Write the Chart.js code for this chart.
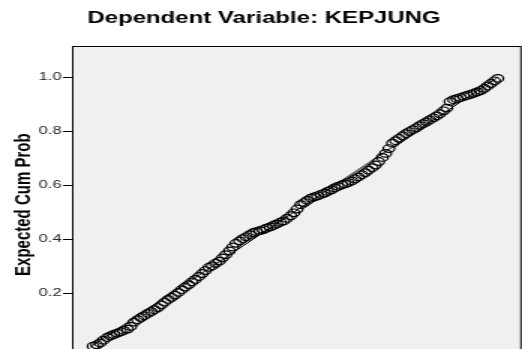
<!DOCTYPE html>
<html>
<head>
<meta charset="utf-8">
<script src="https://cdn.jsdelivr.net/npm/chart.js@4/dist/chart.umd.min.js"></script>
<style>
  html, body { margin: 0; padding: 0; background: #fff; overflow: hidden; }
  #frame { width: 348px; height: 349px; overflow: hidden; transform: scaleX(1.5); transform-origin: 0 0; }
  #pp { display: block; }
</style>
</head>
<body>
<div id="frame"><canvas id="pp" width="352" height="371"></canvas></div>
<script>
// Normal P-P plot of the regression standardized residuals
const chartTitle = 'Dependent Variable: KEPJUNG';
const yAxisTitle = 'Expected Cum Prob';
const xAxisTitle = 'Observed Cum Prob';

const observedCumProb = [
  0.008, 0.017, 0.025, 0.033, 0.042, 0.050, 0.058, 0.067, 0.075, 0.083,
  0.092, 0.100, 0.108, 0.117, 0.125, 0.133, 0.142, 0.150, 0.158, 0.167,
  0.175, 0.183, 0.192, 0.200, 0.208, 0.217, 0.225, 0.233, 0.242, 0.250,
  0.258, 0.267, 0.275, 0.283, 0.292, 0.300, 0.308, 0.317, 0.325, 0.333,
  0.342, 0.350, 0.358, 0.367, 0.375, 0.383, 0.392, 0.400, 0.408, 0.417,
  0.425, 0.433, 0.442, 0.450, 0.458, 0.467, 0.475, 0.483, 0.492, 0.500,
  0.508, 0.517, 0.525, 0.533, 0.542, 0.550, 0.558, 0.567, 0.575, 0.583,
  0.592, 0.600, 0.608, 0.617, 0.625, 0.633, 0.642, 0.650, 0.658, 0.667,
  0.675, 0.683, 0.692, 0.700, 0.708, 0.717, 0.725, 0.733, 0.742, 0.750,
  0.758, 0.767, 0.775, 0.783, 0.792, 0.800, 0.808, 0.817, 0.825, 0.833,
  0.842, 0.850, 0.858, 0.867, 0.875, 0.883, 0.892, 0.900, 0.908, 0.917,
  0.925, 0.933, 0.942, 0.950, 0.958, 0.967, 0.975, 0.983, 0.992, 1.000
];

const expectedCumProb = [
  0.004, 0.009, 0.016, 0.026, 0.036, 0.042, 0.047, 0.052, 0.057, 0.062,
  0.067, 0.077, 0.093, 0.102, 0.110, 0.117, 0.125, 0.132, 0.139, 0.147,
  0.157, 0.167, 0.177, 0.185, 0.193, 0.203, 0.213, 0.223, 0.232, 0.242,
  0.251, 0.262, 0.273, 0.284, 0.296, 0.302, 0.311, 0.319, 0.331, 0.343,
  0.357, 0.371, 0.385, 0.394, 0.402, 0.409, 0.417, 0.424, 0.428, 0.432,
  0.436, 0.441, 0.446, 0.451, 0.457, 0.463, 0.468, 0.477, 0.487, 0.498,
  0.512, 0.528, 0.536, 0.544, 0.552, 0.557, 0.561, 0.566, 0.571, 0.577,
  0.583, 0.590, 0.596, 0.601, 0.605, 0.610, 0.616, 0.624, 0.631, 0.639,
  0.647, 0.656, 0.665, 0.675, 0.688, 0.703, 0.718, 0.736, 0.756, 0.765,
  0.774, 0.783, 0.791, 0.799, 0.806, 0.813, 0.821, 0.828, 0.835, 0.842,
  0.850, 0.857, 0.865, 0.876, 0.886, 0.910, 0.917, 0.921, 0.925, 0.929,
  0.933, 0.937, 0.941, 0.946, 0.951, 0.959, 0.968, 0.977, 0.987, 0.996
];

// reference diagonal (observed = expected)
const diagonalX = [0, 1];
const diagonalY = [0, 1];

const yTickValues = [0.2, 0.4, 0.6, 0.8, 1.0];
const yTickLabels = ['0.2', '0.4', '0.6', '0.8', '1.0'];

const points = observedCumProb.map((x, i) => ({ x: x, y: expectedCumProb[i] }));
const diagonal = diagonalX.map((x, i) => ({ x: x, y: diagonalY[i] }));

// grey plot panel with a black frame
const panel = {
  id: 'panel',
  beforeDatasetsDraw(chart) {
    const a = chart.chartArea, ctx = chart.ctx;
    ctx.save();
    ctx.fillStyle = '#f0f0f0';
    ctx.fillRect(a.left, a.top, a.right - a.left, a.bottom - a.top);
    ctx.strokeStyle = '#000';
    ctx.lineWidth = 1;
    ctx.strokeRect(a.left + 0.5, a.top + 0.5, a.right - a.left, a.bottom - a.top);
    ctx.restore();
  }
};

new Chart(document.getElementById('pp'), {
  type: 'scatter',
  data: {
    datasets: [
      {
        type: 'line',
        data: diagonal,
        borderColor: '#000',
        borderWidth: 1,
        pointRadius: 0,
        fill: false,
        order: 2
      },
      {
        data: points,
        pointStyle: 'circle',
        pointRadius: 3.8,
        borderWidth: 1.2,
        borderColor: '#000',
        backgroundColor: 'rgba(0,0,0,0)',
        order: 1
      }
    ]
  },
  plugins: [panel],
  options: {
    responsive: false,
    animation: false,
    devicePixelRatio: 1,
    layout: { padding: 0 },
    plugins: {
      legend: { display: false },
      tooltip: { enabled: false },
      title: {
        display: true,
        text: chartTitle,
        color: '#000',
        font: { family: '"Liberation Sans", Arial, sans-serif', size: 16, weight: 'bold' },
        padding: { top: 9, bottom: 17.8 }
      }
    },
    scales: {
      x: {
        type: 'linear',
        display: false,
        min: -0.044,
        max: 1.055,
        title: { display: false, text: xAxisTitle }
      },
      y: {
        type: 'linear',
        min: -0.06,
        max: 1.116,
        afterFit(scale) { scale.width = 48; },
        afterBuildTicks(scale) { scale.ticks = yTickValues.map(v => ({ value: v })); },
        border: { display: false },
        grid: { drawOnChartArea: false, drawTicks: true, tickLength: 6, tickColor: '#000', tickWidth: 1 },
        ticks: {
          padding: 1,
          color: '#222',
          font: { family: '"Liberation Sans", Arial, sans-serif', size: 11 },
          callback(value) {
            const i = yTickValues.findIndex(v => Math.abs(v - value) < 1e-9);
            return i >= 0 ? yTickLabels[i] : '';
          }
        },
        title: {
          display: true,
          text: yAxisTitle,
          color: '#000',
          font: { family: '"Liberation Sans", Arial, sans-serif', size: 15, weight: 'bold' },
          padding: { top: 6.4, bottom: 0 }
        }
      }
    }
  }
});
</script>
</body>
</html>
